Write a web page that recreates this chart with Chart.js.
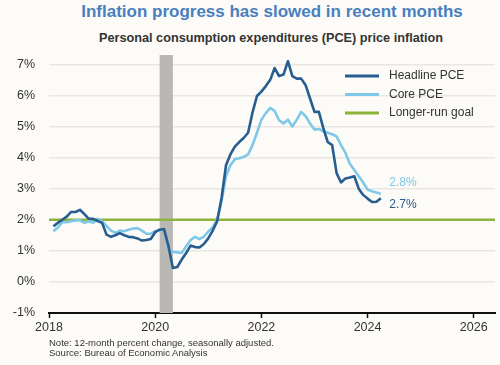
<!DOCTYPE html>
<html>
<head>
<meta charset="utf-8">
<script src="https://cdn.jsdelivr.net/npm/chart.js"></script>
<style>
  html, body { margin: 0; padding: 0; background: #fcfbf8; }
  body { width: 500px; height: 365px; position: relative; overflow: hidden; font-family: "Liberation Sans", Arial, sans-serif; }
  canvas { position: absolute; left: 0; top: 0; }
  .titulo { position: absolute; left: 22px; width: 500px; top: 1px; text-align: center; font-size: 17px; font-weight: bold; color: #4a7fbf; line-height: 22px; }
  .subtitulo { position: absolute; left: 21px; width: 500px; top: 30px; text-align: center; font-size: 12.7px; font-weight: bold; color: #333; line-height: 16px; }
  .nota { position: absolute; left: 49px; top: 338px; font-size: 9.5px; line-height: 10px; color: #333; }
</style>
</head>
<body>
<div class="titulo">Inflation progress has slowed in recent months</div>
<div class="subtitulo">Personal consumption expenditures (PCE) price inflation</div>
<canvas id="grafLinha" width="500" height="365"></canvas>
<div class="nota">Note: 12-month percent change, seasonally adjusted.<br>Source: Bureau of Economic Analysis</div>

<script>
// dados mensais, jan/2018 a mar/2024 (variacao em 12 meses, %)
const primeiroMes = [2018, 1]
const headline = [
  1.79, 1.9, 2.0, 2.1, 2.25, 2.25, 2.32, 2.18, 2.03, 2.03, 1.96, 1.9,
  1.52, 1.45, 1.5, 1.57, 1.5, 1.45, 1.44, 1.4, 1.33, 1.35, 1.38, 1.6,
  1.68, 1.7, 1.15, 0.45, 0.48, 0.72, 0.93, 1.17, 1.12, 1.11, 1.22, 1.4,
  1.65, 1.95, 2.7, 3.75, 4.1, 4.35, 4.5, 4.63, 4.8, 5.45, 5.98, 6.12,
  6.3, 6.5, 6.88, 6.62, 6.67, 7.1, 6.62, 6.54, 6.54, 6.33, 5.9, 5.47,
  5.47, 4.95, 4.5, 4.4, 3.5, 3.2, 3.33, 3.36, 3.4, 3.0, 2.8, 2.68,
  2.57, 2.58, 2.69
]
const core = [
  1.63, 1.75, 1.92, 1.92, 1.95, 1.98, 1.98, 1.9, 1.95, 1.9, 2.03, 1.95,
  1.8, 1.65, 1.58, 1.65, 1.63, 1.68, 1.72, 1.73, 1.65, 1.55, 1.55, 1.63,
  1.66, 1.68, 1.05, 0.97, 0.95, 0.93, 1.15, 1.35, 1.45, 1.38, 1.46, 1.62,
  1.75, 2.0, 2.6, 3.4, 3.75, 3.95, 3.98, 4.02, 4.1, 4.4, 4.8, 5.22,
  5.43, 5.6, 5.5, 5.2, 5.1, 5.22, 5.0, 5.22, 5.47, 5.33, 5.1, 4.9,
  4.92, 4.84, 4.8, 4.75, 4.68, 4.4, 4.15, 3.8, 3.6, 3.4, 3.2, 2.97,
  2.92, 2.88, 2.83
]
const meta = 2
const recessao = [[2020, 2], [2020, 4]]   // fev-abr 2020
const series = ['Headline PCE', 'Core PCE', 'Longer-run goal']
const cores = ['#275d8f', '#7fc8e8', '#8cb33c']
const xMin = 2018
const xMax = 2026.4
const yTicks = [-1, 0, 1, 2, 3, 4, 5, 6, 7]
const xTicks = [2018, 2020, 2022, 2024, 2026]

// ponto mensal desenhado no fim do mes
function mesParaX(i) {
  return primeiroMes[0] + (primeiroMes[1] - 1 + i + 1) / 12
}
const ptsHeadline = headline.map((v, i) => ({ x: mesParaX(i), y: v }))
const ptsCore = core.map((v, i) => ({ x: mesParaX(i), y: v }))

const fundoERotulos = {
  id: 'fundoERotulos',
  beforeDatasetsDraw(chart) {
    const { ctx, chartArea, scales } = chart
    const x0 = scales.x.getPixelForValue(recessao[0][0] + (recessao[0][1] - 1) / 12)
    const x1 = scales.x.getPixelForValue(recessao[1][0] + recessao[1][1] / 12)
    ctx.save()
    ctx.fillStyle = '#bab8b4'
    ctx.fillRect(x0, chartArea.top, x1 - x0, chartArea.bottom - chartArea.top)
    ctx.restore()
  },
  afterDraw(chart) {
    const { ctx, scales } = chart
    ctx.save()
    ctx.font = '12px "Liberation Sans", Arial, sans-serif'
    ctx.textBaseline = 'middle'
    // rotulos do ultimo valor
    const ultH = headline[headline.length - 1]
    const ultC = core[core.length - 1]
    const xl = scales.x.getPixelForValue(mesParaX(headline.length - 1)) + 8.5
    ctx.fillStyle = cores[1]
    ctx.fillText(ultC.toFixed(1) + '%', xl, scales.y.getPixelForValue(ultC) - 11)
    ctx.fillStyle = cores[0]
    ctx.fillText(ultH.toFixed(1) + '%', xl, scales.y.getPixelForValue(ultH) + 6.5)
    // legenda
    chart.data.datasets.forEach((ds, i) => {
      const y = 76 + i * 18.5
      ctx.strokeStyle = ds.borderColor
      ctx.lineWidth = 3
      ctx.beginPath()
      ctx.moveTo(345, y)
      ctx.lineTo(379, y)
      ctx.stroke()
      ctx.fillStyle = '#333'
      ctx.fillText(ds.label, 389, y)
    })
    ctx.restore()
  }
}

Chart.defaults.font.family = '"Liberation Sans", Arial, sans-serif'
Chart.defaults.color = '#333'

new Chart(document.getElementById('grafLinha'), {
  type: 'line',
  data: {
    datasets: [
      { label: series[0], data: ptsHeadline, borderColor: cores[0], borderWidth: 2.6 },
      { label: series[1], data: ptsCore, borderColor: cores[1], borderWidth: 2.6 },
      { label: series[2], data: [{ x: xMin, y: meta }, { x: xMax, y: meta }], borderColor: cores[2], borderWidth: 2.4 }
    ]
  },
  options: {
    responsive: false,
    animation: false,
    events: [],
    elements: { point: { radius: 0 }, line: { tension: 0, borderJoinStyle: 'round' } },
    layout: { padding: { left: 0, right: 5, top: 55, bottom: 0 } },
    plugins: { legend: { display: false }, tooltip: { enabled: false } },
    scales: {
      x: {
        type: 'linear',
        min: xMin,
        max: xMax,
        afterBuildTicks: s => { s.ticks = xTicks.map(v => ({ value: v })) },
        afterFit: s => { s.height = 52 },
        ticks: { font: { size: 12.5 }, color: '#333', padding: 2, maxRotation: 0, callback: v => String(v) },
        grid: { drawOnChartArea: false, drawTicks: true, tickLength: 5, tickColor: '#111', tickWidth: 1.5 },
        border: { display: true, color: '#111', width: 2 }
      },
      y: {
        min: -1,
        max: 7.3,
        afterBuildTicks: s => { s.ticks = yTicks.map(v => ({ value: v })) },
        afterFit: s => { s.width = 49 },
        ticks: { font: { size: 12.5 }, color: '#333', padding: 14, callback: v => v + '%' },
        grid: { drawTicks: false, color: '#e8e7e4', lineWidth: 1.5 },
        border: { display: false }
      }
    }
  },
  plugins: [fundoERotulos]
})
</script>
</body>
</html>
